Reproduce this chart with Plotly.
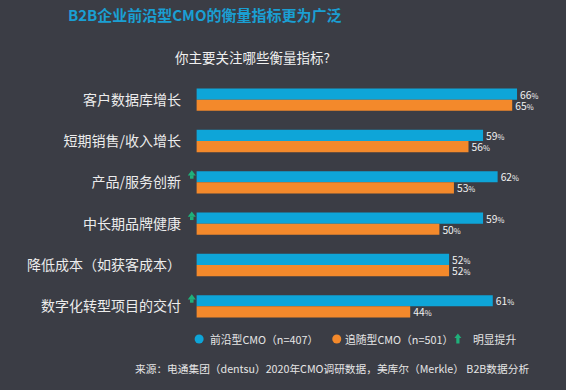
import plotly.graph_objects as go

categories = ["客户数据库增长", "短期销售/收入增长", "产品/服务创新", "中长期品牌健康", "降低成本（如获客成本）", "数字化转型项目的交付"]
leading = [66, 59, 62, 59, 52, 61]
following = [65, 56, 53, 50, 52, 44]
notable = [False, False, True, True, False, True]
legend_names = ["前沿型CMO（n=407）", "追随型CMO（n=501）", "明显提升"]

BG = "#3b3d45"
BLUE = "#0ea5d8"
ORANGE = "#f3892b"
GREEN = "#1fb07a"
FONT = "Noto Sans CJK SC"

W, H = 566, 390
SCALE = 4.85          # px per percent
X0 = 197              # px of 0%
XMIN = -2.6           # data units left of 0 kept inside plot for arrows
L = X0 + XMIN * SCALE
R, T, B = 0, 79, 63
PW, PH = W - L - R, H - T - B

def px_x(x):
    return (x - L) / PW

def px_y(y):
    return (H - B - y) / PH

idx = list(range(len(categories)))
bw = 0.27

fig = go.Figure()
for vals, col, off, nm in [(leading, BLUE, -bw, legend_names[0]), (following, ORANGE, 0, legend_names[1])]:
    fig.add_trace(go.Bar(
        y=idx, x=vals, orientation="h", width=bw, offset=off,
        marker=dict(color=col, line=dict(width=0)), name=nm,
        texttemplate="%{x}<span style='font-size:7.5px'>%</span>", textposition="outside",
        constraintext="none",
        textfont=dict(color="#f2f2f2", size=10.3, family=FONT), cliponaxis=False, showlegend=False,
    ))

# green "明显提升" arrows: head + stem
ay = [i for i, n in zip(idx, notable) if n]
fig.add_trace(go.Scatter(
    x=[-1.0] * len(ay), y=[v - 0.21 for v in ay], mode="markers", showlegend=False,
    marker=dict(symbol="triangle-up", size=7, color=GREEN, line=dict(width=0)), hoverinfo="skip",
))
fig.add_trace(go.Scatter(
    x=[-1.0] * len(ay), y=[v - 0.13 for v in ay], mode="markers", showlegend=False,
    marker=dict(symbol="square", size=3.5, color=GREEN, line=dict(width=0)), hoverinfo="skip",
))

# custom legend (symbols as shapes, labels as annotations)
LY = 339
shapes = [
    dict(type="circle", xref="paper", yref="paper", x0=px_x(195), x1=px_x(204),
         y0=px_y(LY + 4.5), y1=px_y(LY - 4.5), fillcolor=BLUE, line=dict(width=0)),
    dict(type="circle", xref="paper", yref="paper", x0=px_x(332.5), x1=px_x(341.5),
         y0=px_y(LY + 4.5), y1=px_y(LY - 4.5), fillcolor=ORANGE, line=dict(width=0)),
    dict(type="path", xref="paper", yref="paper",
         path=("M {a},{b} L {c},{d} L {e},{d} L {e},{f} L {g},{f} L {g},{d} L {h},{d} Z").format(
             a=px_x(458), b=px_y(LY - 5.5), c=px_x(461.5), d=px_y(LY - 1),
             e=px_x(459.6), f=px_y(LY + 4.5), g=px_x(456.4), h=px_x(454.5)),
         fillcolor=GREEN, line=dict(width=0)),
]

ann = [
    dict(text="你主要关注哪些衡量指标?", x=px_x(253), y=px_y(57), xanchor="center",
         font=dict(size=13.5, color="#f0f0f0", family=FONT)),
    dict(text="来源：电通集团（dentsu）2020年CMO调研数据，美库尔（Merkle） B2B数据分析",
         x=px_x(133), y=px_y(368), xanchor="left",
         font=dict(size=10.7, color="#e6e6e6", family=FONT)),
    dict(text=legend_names[0], x=px_x(208), y=px_y(LY), xanchor="left",
         font=dict(size=10.8, color="#e6e6e6", family=FONT)),
    dict(text=legend_names[1], x=px_x(343), y=px_y(LY), xanchor="left",
         font=dict(size=10.8, color="#e6e6e6", family=FONT)),
    dict(text=legend_names[2], x=px_x(471), y=px_y(LY), xanchor="left",
         font=dict(size=10.8, color="#e6e6e6", family=FONT)),
]
for a in ann:
    a.update(xref="paper", yref="paper", yanchor="middle", showarrow=False)

fig.update_layout(
    width=W, height=H, paper_bgcolor=BG, plot_bgcolor=BG,
    margin=dict(l=L, r=R, t=T, b=B, autoexpand=False),
    barmode="overlay", showlegend=False,
    font=dict(family=FONT, color="#e6e6e6"),
    title=dict(text="<b>B2B企业前沿型CMO的衡量指标更为广泛</b>", xref="container", x=68 / W,
               xanchor="left", y=1 - 16 / H, yanchor="middle",
               font=dict(size=15, color="#1a9fd3", family=FONT)),
    xaxis=dict(range=[XMIN, XMIN + PW / SCALE], visible=False, showgrid=False, zeroline=False,
               automargin=False),
    yaxis=dict(range=[5.5, -0.5], tickvals=idx, ticktext=categories, showgrid=False,
               zeroline=False, showline=False, ticks="", ticklabelstandoff=2, automargin=False,
               tickfont=dict(size=14, color="#ececec", family=FONT)),
    shapes=shapes,
    annotations=ann,
)

fig.write_html(
    "out.html",
    config={"displayModeBar": False},
    post_script="document.body.style.margin='0';document.body.style.background='%s';" % BG,
)
